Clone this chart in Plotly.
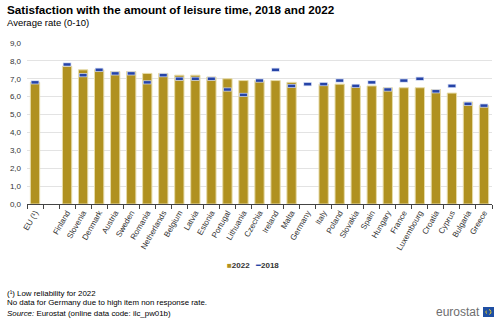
import plotly.graph_objects as go

# Countries in chart order (blank slot separates the EU aggregate)
countries = [
    "EU (¹)", " ", "Finland", "Slovenia", "Denmark", "Austria", "Sweden",
    "Romania", "Netherlands", "Belgium", "Latvia", "Estonia", "Portugal",
    "Lithuania", "Czechia", "Ireland", "Malta", "Germany", "Italy", "Poland",
    "Slovakia", "Spain", "Hungary", "France", "Luxembourg", "Croatia",
    "Cyprus", "Bulgaria", "Greece",
]

# Average satisfaction with the amount of leisure time (0-10)
values_2022 = [
    6.8, None, 7.7, 7.5, 7.5, 7.4, 7.4, 7.3, 7.3, 7.2, 7.2, 7.1, 7.0,
    6.9, 6.9, 6.9, 6.8, None, 6.7, 6.7, 6.6, 6.6, 6.5, 6.5, 6.5, 6.4,
    6.2, 5.7, 5.5,
]
values_2018 = [
    6.8, None, 7.8, 7.2, 7.5, 7.3, 7.3, 6.8, 7.2, 7.0, 7.0, 7.0, 6.4,
    6.1, 6.9, 7.5, 6.6, 6.7, 6.7, 6.9, 6.6, 6.8, 6.4, 6.9, 7.0, 6.3,
    6.6, 5.6, 5.5,
]

y_ticks = [0, 1, 2, 3, 4, 5, 6, 7, 8, 9]

GOLD = "#B09120"
BLUE = "#2644A7"
FONT = "Liberation Sans, Arial, sans-serif"

W, H = 500, 321
L, R, T, B = 27, 8, 43, 117
PW, PH = W - L - R, H - T - B


def px_x(px):
    return (px - L) / PW


def px_y(py):
    return (H - B - py) / PH


fig = go.Figure()

fig.add_trace(go.Bar(
    x=countries, y=values_2022, name="2022",
    marker=dict(color=GOLD, line=dict(color="#E6DBA8", width=1)),
    width=0.58,
))

# light halo under the 2018 dashes
fig.add_trace(go.Scatter(
    x=countries, y=values_2018, mode="markers", showlegend=False,
    hoverinfo="skip",
    marker=dict(symbol="line-ew", size=6, color="#C9D3F0",
                line=dict(color="#C9D3F0", width=4)),
))
fig.add_trace(go.Scatter(
    x=countries, y=values_2018, mode="markers", name="2018",
    marker=dict(symbol="line-ew", size=5, color=BLUE,
                line=dict(color=BLUE, width=2.5)),
))

fig.update_layout(
    width=W, height=H,
    margin=dict(l=L, r=R, t=T, b=B),
    paper_bgcolor="white", plot_bgcolor="white",
    separators=", ",
    showlegend=False,
    font=dict(family=FONT, size=8, color="#333333"),
    xaxis=dict(
        type="category", categoryorder="array", categoryarray=countries,
        range=[-0.5, len(countries) - 0.5],
        tickangle=-60, tickfont=dict(size=8, color="#333333"),
        showline=True, linecolor="#444444", linewidth=1,
        ticks="outside", tickson="boundaries", ticklen=4,
        tickcolor="#444444", showgrid=False, fixedrange=True,
    ),
    yaxis=dict(
        range=[0, 9.0], tickvals=y_ticks, tickformat=".1f",
        tickfont=dict(size=8, color="#333333"),
        showgrid=True, gridcolor="#E3E3E3", gridwidth=1,
        zeroline=False, showline=False, ticks="", ticklabelstandoff=5,
        fixedrange=True,
    ),
)

texts = [
    ("<b>Satisfaction with the amount of leisure time, 2018 and 2022</b>", 5, 10, 11.7),
    ("Average rate (0-10)", 5, 23, 9.5),
    ("(¹) Low reliability for 2022", 5, 293, 7.9),
    ("No data for Germany due to high item non response rate.", 5, 302, 7.9),
    ("<i>Source:</i> Eurostat (online data code: ilc_pw01b)", 5, 313, 7.9),
]
for text, x, y, size in texts:
    fig.add_annotation(xref="paper", yref="paper", xanchor="left", yanchor="middle",
                       showarrow=False, text=text,
                       font=dict(family=FONT, size=size, color="#000000"),
                       x=px_x(x), y=px_y(y))

# legend drawn as text items
fig.add_annotation(xref="paper", yref="paper", x=px_x(238), y=px_y(265),
                   xanchor="center", yanchor="middle", showarrow=False,
                   text=f'<span style="color:{GOLD}">■</span><b>2022</b>',
                   font=dict(family=FONT, size=8, color="#333333"))
fig.add_annotation(xref="paper", yref="paper", x=px_x(267), y=px_y(265),
                   xanchor="center", yanchor="middle", showarrow=False,
                   text=f'<span style="color:{BLUE}">━</span><b>2018</b>',
                   font=dict(family=FONT, size=8, color="#333333"))

# eurostat logo
fig.add_annotation(xref="paper", yref="paper", x=px_x(482), y=px_y(312),
                   xanchor="right", yanchor="middle", showarrow=False,
                   text="eurostat", font=dict(family=FONT, size=12, color="#6E6E6E"))
fig.add_shape(type="rect", xref="paper", yref="paper",
              x0=px_x(483), x1=px_x(494), y0=px_y(317), y1=px_y(307),
              fillcolor="#1F4FA3", line=dict(width=0))
fig.add_shape(type="circle", xref="paper", yref="paper",
              x0=px_x(486), x1=px_x(491), y0=px_y(314.5), y1=px_y(309.5),
              line=dict(color="#F2D21B", width=1, dash="dot"))

fig.write_html("out.html")
